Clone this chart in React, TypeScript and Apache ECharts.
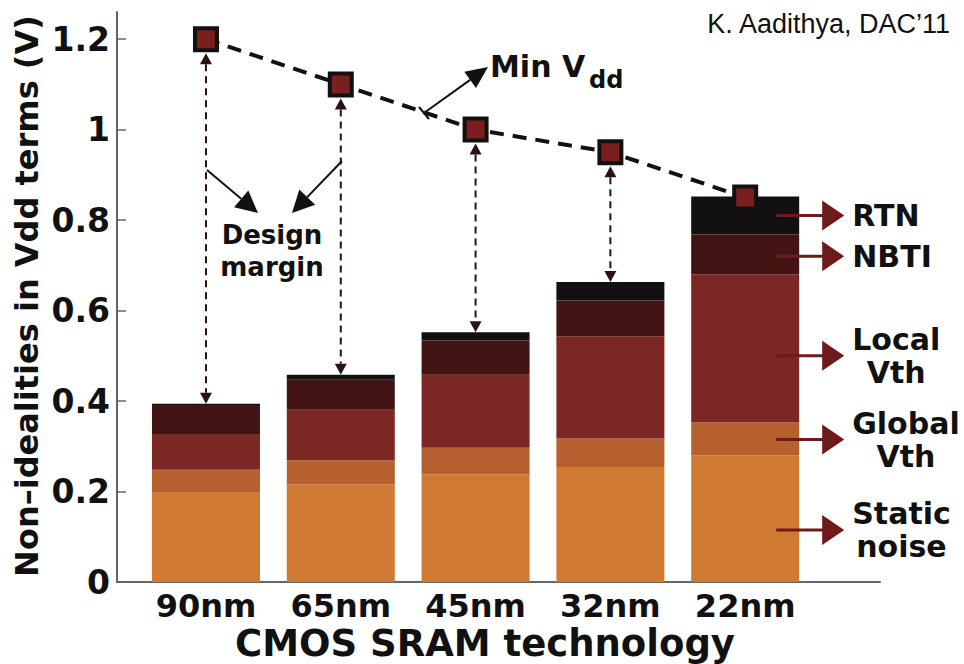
import React, { useEffect, useRef } from 'react';
import * as echarts from 'echarts';

// ---- data ----
const categories = ['90nm', '65nm', '45nm', '32nm', '22nm'];
const staticNoise = [0.199, 0.216, 0.238, 0.254, 0.28];
const globalVth = [0.049, 0.053, 0.059, 0.063, 0.073];
const localVth = [0.079, 0.112, 0.161, 0.226, 0.327];
const nbti = [0.064, 0.066, 0.076, 0.079, 0.088];
const rtn = [0.003, 0.011, 0.018, 0.041, 0.084];
const minVdd = [1.2, 1.1, 1.0, 0.95, 0.85];
const yTickValues = [0, 0.2, 0.4, 0.6, 0.8, 1.0, 1.2];
const yTickLabels = ['0', '0.2', '0.4', '0.6', '0.8', '1', '1.2'];
const layerNames = ['Static noise', 'Global Vth', 'Local Vth', 'NBTI', 'RTN'];
const layerLabels = ['Static\nnoise', 'Global\nVth', 'Local\nVth', 'NBTI', 'RTN'];
const labelLevels = [0.115, 0.315, 0.5, 0.72, 0.81];

// ---- styles ----
const FONT = 'DejaVu Sans';
const layerColors = ['#D17A33', '#B5602E', '#7B2724', '#431414', '#121010'];
const LABEL_ARROW_X = 5.23;
const BAR_WIDTH = 108;
const TEXT = '#111111';

export default function App() {
  const ref = useRef<HTMLDivElement>(null);

  useEffect(() => {
    document.body.style.margin = '0';
    const chart = echarts.init(ref.current!, null, { renderer: 'svg' });
    const xs = categories.map((_, i) => i + 1);
    const layers = [staticNoise, globalVth, localVth, nbti, rtn];
    const totals = xs.map((_, i) => layers.reduce((s, l) => s + l[i], 0));

    const measure = (t: string, size: number) => {
      const c = document.createElement('canvas').getContext('2d')!;
      c.font = `bold ${size}px "${FONT}"`;
      return Math.max(...t.split('\n').map((s) => c.measureText(s).width));
    };

    const arrow = (x1: number, y1: number, x2: number, y2: number, len: number, hw: number, color: string, lw: number) => {
      const dx = x2 - x1, dy = y2 - y1;
      const d = Math.sqrt(dx * dx + dy * dy);
      const ux = dx / d, uy = dy / d;
      const bx = x2 - ux * len, by = y2 - uy * len;
      const px = -uy, py = ux;
      return [
        { type: 'line', shape: { x1, y1, x2: bx, y2: by }, style: { stroke: color, lineWidth: lw } },
        { type: 'polygon', shape: { points: [[x2, y2], [bx + px * hw, by + py * hw], [bx - px * hw, by - py * hw]] }, style: { fill: color } },
      ];
    };

    // stacked bars: each layer drawn from its base (sum of the layers below) to base + value
    const barSeries = layers.map((vals, k) => ({
      type: 'custom',
      name: layerNames[k],
      coordinateSystem: 'cartesian2d',
      z: 2,
      data: vals.map((v, i) => {
        let base = 0;
        for (let j = 0; j < k; j++) base += layers[j][i];
        return [xs[i], base, base + v];
      }),
      encode: { x: 0, y: [1, 2] },
      renderItem: (_p: any, api: any) => {
        const b = api.coord([api.value(0), api.value(1)]);
        const t = api.coord([api.value(0), api.value(2)]);
        return {
          type: 'rect',
          shape: { x: b[0] - BAR_WIDTH / 2, y: t[1], width: BAR_WIDTH, height: b[1] - t[1] },
          style: { fill: layerColors[k] },
        };
      },
    }));

    const marginArrows = {
      type: 'custom',
      name: 'Design margin',
      coordinateSystem: 'cartesian2d',
      z: 3,
      data: xs.map((x, i) => [x, totals[i], minVdd[i]]),
      encode: { x: 0, y: [1, 2] },
      renderItem: (_p: any, api: any) => {
        const bot = api.coord([api.value(0), api.value(1)]);
        const top = api.coord([api.value(0), api.value(2)]);
        const x = bot[0];
        const tTip = top[1] + 14;
        const bTip = bot[1];
        const h = 11, w = 6;
        const col = '#2a1212';
        if (bTip - tTip < 2 * h + 6) return { type: 'group', children: [] };
        return {
          type: 'group',
          children: [
            { type: 'line', shape: { x1: x, y1: tTip + h, x2: x, y2: bTip - h }, style: { stroke: col, lineWidth: 2, lineDash: [7, 5] } },
            { type: 'polygon', shape: { points: [[x, tTip], [x - w, tTip + h], [x + w, tTip + h]] }, style: { fill: col } },
            { type: 'polygon', shape: { points: [[x, bTip], [x - w, bTip - h], [x + w, bTip - h]] }, style: { fill: col } },
          ],
        };
      },
    };

    const labelArrows = {
      type: 'custom',
      name: 'Layer labels',
      coordinateSystem: 'cartesian2d',
      z: 5,
      clip: false,
      data: labelLevels.map((lv, k) => [LABEL_ARROW_X, lv, k]),
      encode: { x: 0, y: 1 },
      renderItem: (_p: any, api: any) => {
        const p = api.coord([api.value(0), api.value(1)]);
        const k = api.value(2);
        const x0 = p[0], y = p[1];
        const tip = x0 + 68;
        const text = layerLabels[k];
        const multi = text.indexOf('\n') >= 0;
        const w = measure(text, 30);
        const col = '#6E1A1A';
        return {
          type: 'group',
          children: [
            { type: 'line', shape: { x1: x0, y1: y, x2: x0 + 47, y2: y }, style: { stroke: col, lineWidth: 3 } },
            { type: 'polygon', shape: { points: [[x0 + 46, y - 15], [tip, y], [x0 + 46, y + 15]] }, style: { fill: col } },
            {
              type: 'text',
              x: multi ? tip + 8 + w / 2 : tip + 8,
              y: y,
              style: {
                text,
                fill: TEXT,
                fontFamily: FONT,
                fontWeight: 'bold',
                fontSize: 30,
                lineHeight: 33,
                align: multi ? 'center' : 'left',
                verticalAlign: 'middle',
              },
            },
          ],
        };
      },
    };

    const vddLine = {
      type: 'line',
      name: 'Min Vdd',
      data: xs.map((x, i) => [x, minVdd[i]]),
      symbol: 'rect',
      symbolSize: 22,
      itemStyle: { color: '#7A1E1E', borderColor: '#111', borderWidth: 4 },
      lineStyle: { color: '#111', width: 4, type: [14, 9] },
      z: 6,
    };

    const boldText = (size: number) => ({ fontFamily: FONT, fontWeight: 'bold', fontSize: size, fill: TEXT });

    chart.setOption({
      animation: false,
      backgroundColor: '#ffffff',
      grid: { left: 117, right: 84, top: 12, bottom: 82, containLabel: false },
      xAxis: {
        type: 'value',
        min: 0.34,
        max: 6.0,
        splitLine: { show: false },
        axisLine: { show: true, lineStyle: { color: '#666', width: 2 } },
        axisTick: { show: false },
        axisLabel: {
          customValues: xs,
          formatter: (v: number) => categories[Math.round(v) - 1] ?? '',
          color: TEXT,
          fontFamily: FONT,
          fontWeight: 'bold',
          fontSize: 32,
          lineHeight: 30,
          margin: 9,
        },
      },
      yAxis: {
        type: 'value',
        min: 0,
        max: 1.26,
        splitLine: { show: false },
        axisLine: { show: true, lineStyle: { color: '#666', width: 2 } },
        axisTick: { show: true, inside: true, length: 9, customValues: yTickValues, lineStyle: { color: '#666', width: 1.5 } },
        axisLabel: {
          customValues: yTickValues,
          formatter: (v: number) => yTickLabels[yTickValues.findIndex((t) => Math.abs(t - v) < 1e-6)] ?? '',
          color: TEXT,
          fontFamily: FONT,
          fontWeight: 'bold',
          fontSize: 33,
          margin: 7,
        },
      },
      series: [...barSeries, marginArrows, labelArrows, vddLine],
      graphic: [
        {
          type: 'text', x: 950, y: 24,
          style: { text: 'K. Aadithya, DAC\u201911', fill: TEXT, fontFamily: 'Liberation Sans', fontSize: 27, align: 'right', verticalAlign: 'middle' },
        },
        {
          type: 'text', x: 27, y: 296, rotation: Math.PI / 2,
          style: { ...boldText(32), text: 'Non\u2013idealities in Vdd terms (V)', align: 'center', verticalAlign: 'middle' },
        },
        {
          type: 'text', x: 485, y: 643,
          style: { ...boldText(37), text: 'CMOS SRAM technology', lineHeight: 36, align: 'center', verticalAlign: 'middle' },
        },
        {
          type: 'text', x: 490, y: 66,
          style: { ...boldText(30), text: 'Min V', align: 'left', verticalAlign: 'middle' },
        },
        {
          type: 'text', x: 589, y: 80,
          style: { ...boldText(24), text: 'dd', align: 'left', verticalAlign: 'middle' },
        },
        {
          type: 'text', x: 272, y: 251,
          style: { ...boldText(26), text: 'Design\nmargin', lineHeight: 32, align: 'center', verticalAlign: 'middle' },
        },
        {
          type: 'group',
          children: [
            ...arrow(424, 113, 488, 67, 22, 10, '#111', 2),
            ...arrow(207, 170, 258, 213, 22, 11, '#111', 2),
            ...arrow(342, 161, 292, 213, 22, 11, '#111', 2),
            { type: 'line', shape: { x1: 419, y1: 107, x2: 429, y2: 119 }, style: { stroke: '#111', lineWidth: 2 } },
          ],
        },
      ],
    });

    return () => chart.dispose();
  }, []);

  return <div ref={ref} style={{ width: 964, height: 664 }} />;
}
